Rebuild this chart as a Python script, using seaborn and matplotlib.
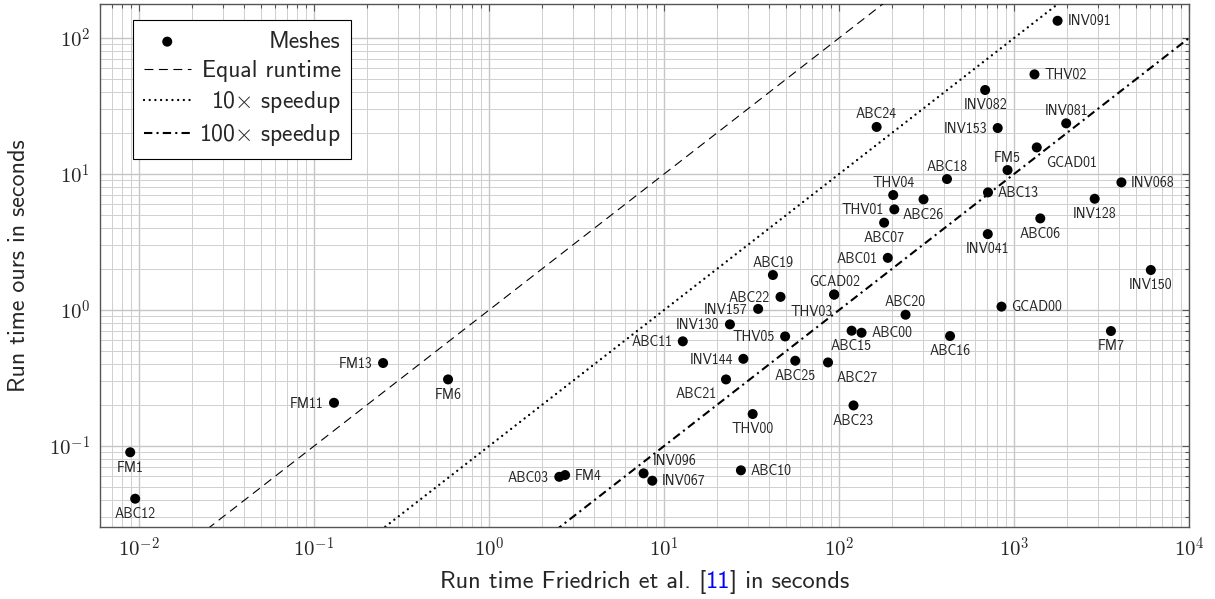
import numpy as np
import matplotlib
matplotlib.use("Agg")
import matplotlib.pyplot as plt
import seaborn as sns
from matplotlib.ticker import FixedLocator, FuncFormatter, NullFormatter
from matplotlib.offsetbox import TextArea, HPacker, AnchoredOffsetbox

# ---- data: mesh name, run time Friedrich et al. [s], run time ours [s] ----
names = ["FM1", "ABC12", "FM11", "FM13", "FM6", "ABC03", "FM4", "INV096", "INV067", "ABC10",
         "THV00", "ABC23", "ABC21", "INV144", "ABC25", "ABC27", "ABC11", "INV130", "THV05", "INV157",
         "ABC22", "ABC19", "GCAD02", "THV03", "ABC20", "ABC15", "ABC00", "ABC16", "GCAD00", "FM7",
         "INV150", "ABC01", "ABC07", "THV01", "THV04", "ABC26", "ABC18", "FM5", "ABC13", "INV041",
         "ABC06", "INV128", "INV068", "GCAD01", "INV081", "INV153", "INV082", "ABC24", "THV02", "INV091"]
friedrich_s = [0.0089, 0.0095, 0.130, 0.248, 0.583, 2.52, 2.72, 7.64, 8.57, 27.5,
               32.1, 121, 22.6, 28.4, 56.2, 86.5, 12.8, 23.8, 49.2, 34.5,
               46.3, 41.9, 93.8, 93.8, 240, 118, 134.5, 431, 848, 3581,
               6050, 190, 181, 207, 204, 304, 414, 918, 710, 708,
               1413, 2891, 4110, 1349, 1987, 807, 684, 164, 1309, 1774]
ours_s = [0.090, 0.041, 0.208, 0.408, 0.309, 0.0594, 0.0612, 0.063, 0.0556, 0.0663,
          0.172, 0.199, 0.309, 0.438, 0.424, 0.412, 0.589, 0.785, 0.640, 1.02,
          1.25, 1.81, 1.30, 1.30, 0.924, 0.705, 0.681, 0.644, 1.06, 0.701,
          1.97, 2.42, 4.39, 5.50, 7.01, 6.52, 9.19, 10.7, 7.33, 3.62,
          4.72, 6.58, 8.69, 15.7, 23.6, 21.8, 41.5, 22.2, 54.1, 134]
# where each name sits relative to its point
label_side = ["b", "b", "l", "l", "b", "l", "r", "ar", "r", "r",
              "b", "b", "bl", "l", "b", "br", "l", "l", "l", "l",
              "l", "a", "a", "bl0", "a", "b", "r", "b", "r", "b",
              "b", "l", "b", "l", "a", "b", "a", "a", "r", "b",
              "b", "b", "r", "br", "a", "l", "b", "a", "r", "r"]

# reference lines: ours = friedrich / speedup
ref_x = np.array([1e-3, 1e5])
speedups = [1, 10, 100]
line_labels = ["Equal runtime", r"10$\times$ speedup", r"100$\times$ speedup"]

x_decades = [-2, -1, 0, 1, 2, 3, 4]
y_decades = [-1, 0, 1, 2]

sns.set_style("white")
plt.rcParams['font.family'] = ['cmss10', 'DejaVu Sans']
plt.rcParams['mathtext.fontset'] = 'cm'
plt.rcParams['axes.unicode_minus'] = False

fig = plt.figure(figsize=(12.15, 5.99), dpi=100)
ax = fig.add_axes([100 / 1215, 1 - 527 / 599, 1089 / 1215, 523 / 599])
ax.set_xscale('log')
ax.set_yscale('log')

# ---- scatter of meshes ----
sns.scatterplot(x=friedrich_s, y=ours_s, color='black', s=52, edgecolor='none',
                ax=ax, zorder=4, legend=False)
mesh_handle = ax.collections[-1]

# ---- speedup lines ----
line_styles = [dict(lw=0.8, dashes=(8, 5)),
               dict(lw=1.7, dashes=(0.01, 2.4), dash_capstyle='round'),
               dict(lw=1.5, dashes=(4, 2, 1, 2))]
line_handles = []
for f, st in zip(speedups, line_styles):
    h, = ax.plot(ref_x, ref_x / f, color='black', zorder=3, **st)
    line_handles.append(h)

# ---- name labels ----
offsets = {'r': (7, 0, 'left'), 'l': (-7.5, 0, 'right'), 'b': (0, -10.5, 'center'),
           'a': (0, 9.5, 'center'), 'bl': (-6.5, -10, 'right'), 'br': (6.5, -10.5, 'left'),
           'ar': (6.8, 9.5, 'left'), 'bl0': (-0.7, -12, 'right')}
for n, xv, yv, side in zip(names, friedrich_s, ours_s, label_side):
    dx, dy, ha = offsets[side]
    ax.annotate(n, (xv, yv), xytext=(dx, dy - 3.4), textcoords='offset points',
                ha=ha, va='baseline', fontsize=10, zorder=5)

ax.set_xlim(0.00598, 1e4)
ax.set_ylim(0.0254, 178)

# ---- axes styling ----
ax.xaxis.set_major_locator(FixedLocator([10.0 ** d for d in x_decades]))
ax.yaxis.set_major_locator(FixedLocator([10.0 ** d for d in y_decades]))
ax.xaxis.set_minor_locator(FixedLocator([m * 10.0 ** d for d in range(-3, 4) for m in range(2, 10)
                                         if 0.00598 < m * 10.0 ** d < 1e4]))
ax.yaxis.set_minor_locator(FixedLocator([m * 10.0 ** d for d in range(-2, 3) for m in range(2, 10)
                                         if 0.0254 < m * 10.0 ** d < 178]))
fmt = FuncFormatter(lambda v, pos: r'$10^{%d}$' % int(round(np.log10(v))))
ax.xaxis.set_major_formatter(fmt)
ax.yaxis.set_major_formatter(fmt)
ax.xaxis.set_minor_formatter(NullFormatter())
ax.yaxis.set_minor_formatter(NullFormatter())

ax.grid(True, which='major', color='#c6c6c6', lw=1.0)
ax.grid(True, which='minor', color='#cfcfcf', lw=0.7)
ax.set_axisbelow(True)
ax.tick_params(which='both', direction='in', top=True, right=True,
               color='#555555', width=0.8, labelsize=15, pad=7)
ax.tick_params(which='major', length=5)
ax.tick_params(which='minor', length=3)
for sp in ax.spines.values():
    sp.set_color('#555555')
    sp.set_linewidth(1.0)

ax.set_ylabel("Run time ours in seconds", fontsize=17.3)
ax.yaxis.set_label_coords(-0.064, 0.5)

# x label with blue citation number
tp = dict(fontsize=17.6)
xlab = HPacker(children=[TextArea("Run time Friedrich et al. [", textprops=tp),
                         TextArea("11", textprops=dict(tp, color='blue')),
                         TextArea("] in seconds", textprops=tp)],
               align='baseline', pad=0, sep=0)
fig.add_artist(AnchoredOffsetbox(loc='center', child=xlab, pad=0, borderpad=0, frameon=False,
                                 bbox_to_anchor=(644.5 / 1215, 1 - 582 / 599),
                                 bbox_transform=fig.transFigure))

# ---- legend, text right-aligned ----
leg = ax.legend([mesh_handle] + line_handles, ["Meshes"] + line_labels,
                loc='upper left', bbox_to_anchor=(0.0303, 0.969), borderaxespad=0,
                fontsize=17, frameon=True, fancybox=False, edgecolor='black', framealpha=1,
                handlelength=2.0, handletextpad=0.35, labelspacing=0.3, borderpad=0.45)
leg.get_frame().set_linewidth(0.8)
leg.set_zorder(6)
fig.canvas.draw()
r = fig.canvas.get_renderer()
entries = [e for col in leg._legend_handle_box.get_children() for e in col.get_children()]
w = max(e.get_bbox(r).width for e in entries)
for e in entries:
    e.width = w
    e.mode = 'expand'

fig.savefig('out.png', dpi=100)
